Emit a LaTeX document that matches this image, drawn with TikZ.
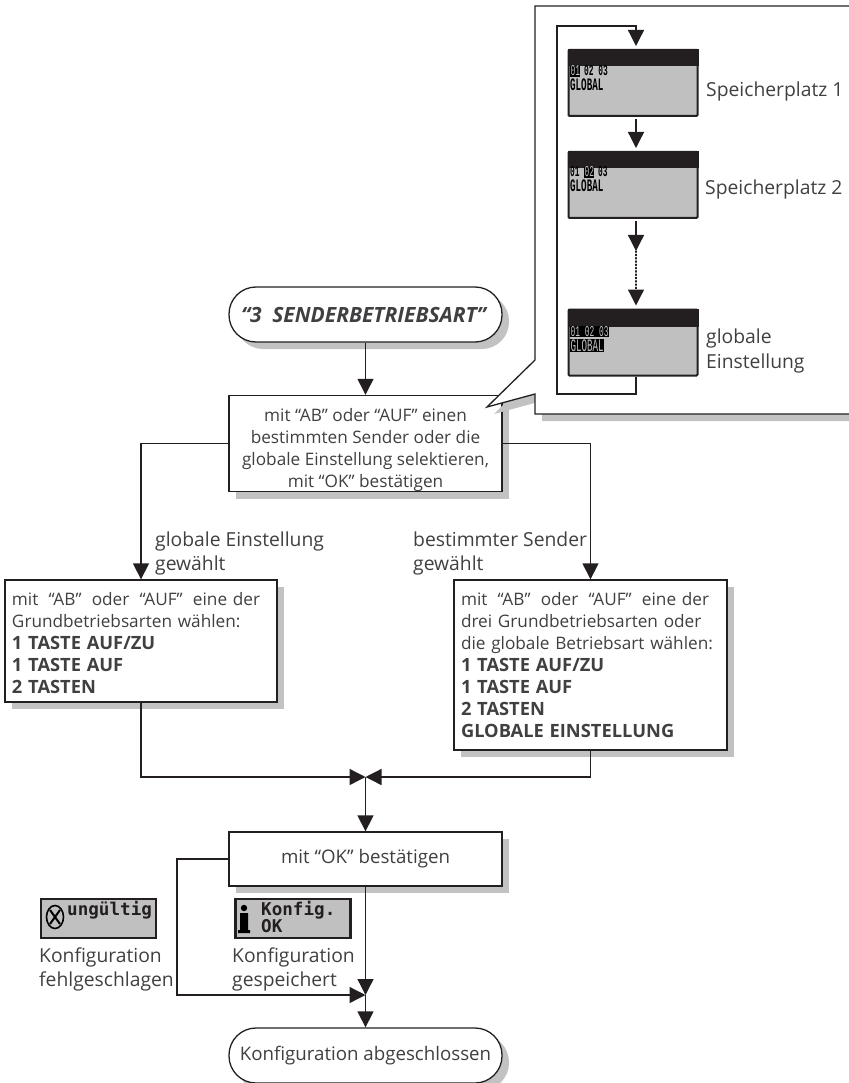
\documentclass[tikz,border=0pt]{standalone}
\usepackage{fontspec}
\setmainfont{Open Sans}
\newfontfamily\lcdf{Liberation Mono}
\newfontfamily\lcdb{DejaVu Sans Mono}
\usetikzlibrary{arrows.meta,shadows,positioning,shapes.geometric}
\definecolor{ink}{HTML}{231F20}
\definecolor{txt}{HTML}{404042}
\definecolor{shgray}{HTML}{C2C2C2}
\definecolor{lcdgray}{HTML}{C0C0C0}
\newcommand\bodyfont{\fontsize{17.2}{22}\selectfont}
\newcommand\widefont{\fontsize{18.7}{22}\selectfont}
\newcommand\labelfont{\fontsize{19.3}{24.5}\selectfont}
\newcommand\bld[1]{{\fontsize{18.3}{22}\selectfont\bfseries #1}}
\newcommand\oq{\kern4.5pt“}
\newcommand\cq{”\kern4.5pt}
\newcommand\tall[1]{\scalebox{1}[1.9]{#1}}
\tikzset{
  conn/.style={draw=ink,line width=1.3pt},
  flow/.style={conn,-{Triangle[length=16pt,width=16pt]}},
  shadowed/.style={drop shadow={shadow xshift=7pt,shadow yshift=-7pt,fill=shgray,opacity=1}},
  stepbox/.style={draw=ink,line width=1.3pt,fill=white,shadowed,text=txt,font=\bodyfont,inner sep=0pt},
  pill/.style={stepbox,rounded corners=27pt,minimum width=273pt,minimum height=55pt},
  screen/.style={draw=ink,fill=lcdgray,line width=2pt,rounded corners=1pt,minimum width=129pt,minimum height=66pt,inner sep=0pt},
  small screen/.style={draw=ink,fill=lcdgray,line width=2.6pt,minimum width=115pt,minimum height=39pt,inner sep=0pt},
  lab/.style={text=txt,font=\labelfont,align=left,anchor=base west,inner sep=0pt},
  lcdtok/.style={anchor=base west,inner sep=0pt,text=black,font=\lcdf\bfseries\fontsize{7.9}{8}\selectfont},
  lcdinv/.style={anchor=base west,inner sep=0.4pt,fill=black,text=lcdgray,font=\lcdf\fontsize{7.9}{8}\selectfont},
  bigmono/.style={anchor=base west,inner sep=0pt,text=ink,font=\lcdb\bfseries\fontsize{17.6}{18}\selectfont},
}
\begin{document}
\begin{tikzpicture}[x=1pt,y=-1pt]
\useasboundingbox (0,0) rectangle (848,1083);

% flow boxes
\node[pill,font=\bfseries\itshape\fontsize{21}{22}\selectfont] (head) at (365.5,314.5) {“3\,\,\,SENDERBETRIEBSART”\kern4pt};
\node[stepbox,minimum width=273pt,minimum height=95pt,align=center] (main) at (365.5,443.5)
  {\rule{0pt}{26pt}mit “AB” oder “AUF” einen\\bestimmten Sender oder die\\globale Einstellung selektieren,\\mit “OK” bestätigen};
\node[stepbox,minimum width=272pt,minimum height=122pt,text width=258pt,align=left] (lbox) at (141,641)
  {\rule{0pt}{18pt}mit \oq AB\cq{} oder \oq AUF\cq{} eine der\\Grundbetriebsarten wählen:\\\bld{1 TASTE AUF/ZU}\\\bld{1 TASTE AUF}\\\bld{2 TASTEN}};
\node[stepbox,minimum width=273pt,minimum height=170pt,text width=259pt,align=left] (rbox) at (590.5,665)
  {mit \oq AB\cq{} oder \oq AUF\cq{} eine der\\drei Grundbetriebsarten oder\\die globale Betriebsart wählen:\\\bld{1 TASTE AUF/ZU}\\\bld{1 TASTE AUF}\\\bld{2 TASTEN}\\\bld{GLOBALE EINSTELLUNG}};
\node[stepbox,minimum width=273pt,minimum height=54pt,font=\widefont] (okbox) at (365.5,859) {mit “OK” bestätigen};
\node[pill,font=\widefont] (endp) at (365.5,1055.5) {Konfiguration abgeschlossen};

% callout over the box corner
\fill[shgray] (542,367) -- (494,414) -- (542,401) -- (542,421) -- (860,421) -- (860,300) -- cycle;
\draw[conn,fill=white] (860,6) -- (535,6) -- (535,360) -- (487,407) -- (535,394) -- (535,414) -- (860,414);

% connectors
\coordinate (merge) at (365.5,777);
\coordinate (join) at (365.5,995);
\coordinate (failx) at (177,859);
\coordinate (faily) at (177,995);
\draw[flow] (head.south) -- (main.north);
\draw[flow] (main.west) -| (lbox.north);
\draw[flow] (main.east) -| (rbox.north);
\draw[flow] (lbox.south) |- (merge);
\draw[flow] (rbox.south) |- (merge);
\draw[flow] (merge) -- (okbox.north);
\draw[flow] (okbox.south) -- (join);
\draw[flow] (okbox.west) -- (failx) -- (faily) -- (join);
\draw[flow] (join) -- (endp.north);

% screens in callout
\node[screen] (s1) at (633,83) {};
\node[screen] (s2) at (633,185) {};
\node[screen] (s3) at (633,342.5) {};
\fill[ink] (s1.north west) rectangle ([yshift=-17pt]s1.north east);
\fill[ink] (s2.north west) rectangle ([yshift=-17pt]s2.north east);
\fill[ink] (s3.north west) rectangle ([yshift=-18pt]s3.north east);
\coordinate (s1in) at ([xshift=3pt]s1.north);
\coordinate (s1out) at ([xshift=3pt]s1.south);
\coordinate (s2in) at ([xshift=3pt]s2.north);
\coordinate (s2out) at ([xshift=3pt]s2.south);
\coordinate (s3in) at ([xshift=3pt]s3.north);
\coordinate (s3out) at ([xshift=3pt]s3.south);
\coordinate (loopa) at (636,394);
\coordinate (loopb) at (557,394);
\coordinate (loopc) at (557,26);
\coordinate (loopd) at (636,26);
\coordinate (dots1) at (636,251);
\coordinate (dots2) at (636,290);
\draw[flow,shorten >=3pt] (s3out) -- (loopa) -- (loopb) -- (loopc) -- (loopd) -- (s1in);
\draw[flow,shorten <=2pt,shorten >=3pt] (s1out) -- (s2in);
\draw[flow,shorten <=2pt] (s2out) -- (dots1);
\draw[conn,dotted,line cap=round] (dots1) -- (dots2);
\draw[flow,shorten >=3pt] (dots2) -- (s3in);

% screen texts
\node[lcdinv] (t1a) at (570,76) {\tall{01}};
\node[lcdtok] (t1b) at (584,76) {\tall{02 03}};
\node[lcdtok,font=\lcdf\bfseries\fontsize{9.2}{9}\selectfont] (t1c) at (570,91) {\tall{GLOBAL}};
\node[lcdtok] (t2a) at (570,177) {\tall{01}};
\node[lcdinv] (t2b) at (584,177) {\tall{02}};
\node[lcdtok] (t2c) at (598,177) {\tall{03}};
\node[lcdtok,font=\lcdf\bfseries\fontsize{9.2}{9}\selectfont] (t2d) at (570,192) {\tall{GLOBAL}};
\node[lcdinv] (t3a) at (570,336) {\tall{01 02 03}};
\node[lcdinv,font=\lcdf\fontsize{9.2}{9}\selectfont] (t3b) at (570,351) {\tall{GLOBAL}};

\node[lab] (l1) at (706,97) {Speicherplatz 1};
\node[lab] (l2) at (705,195) {Speicherplatz 2};
\node[lab] (l3a) at (706,343) {globale};
\node[lab] (l3b) at (706,368) {Einstellung};

\node[lab] (g1) at (155,546) {globale Einstellung};
\node[lab] (g2) at (155,570) {gewählt};
\node[lab] (b1) at (413,546) {bestimmter Sender};
\node[lab] (b2) at (413,570) {gewählt};

% status screens
\node[small screen] (bad) at (98.5,918.5) {};
\node[small screen] (good) at (293,918.5) {};
\node[bigmono] (badt) at (67,915) {ungültig};
\node[draw=black,line width=1.6pt,ellipse,minimum width=17pt,minimum height=23pt,inner sep=0pt] (badi) at (55,917) {};
\draw[black,line width=2pt] (50,910) -- (60,924) (60,910) -- (50,924);
\node[bigmono] (goodt) at (261,915) {Konfig.};
\node[bigmono] (goodu) at (261,932) {OK};
\fill[black] (244,908) circle (3.2pt);
\fill[black] (240,913) rectangle (248,930) (238,930) rectangle (250,933);

\node[lab] (f1) at (39,962) {Konfiguration};
\node[lab] (f2) at (39,986) {fehlgeschlagen};
\node[lab] (k1) at (232,962) {Konfiguration};
\node[lab] (k2) at (232,986) {gespeichert};
\end{tikzpicture}
\end{document}
